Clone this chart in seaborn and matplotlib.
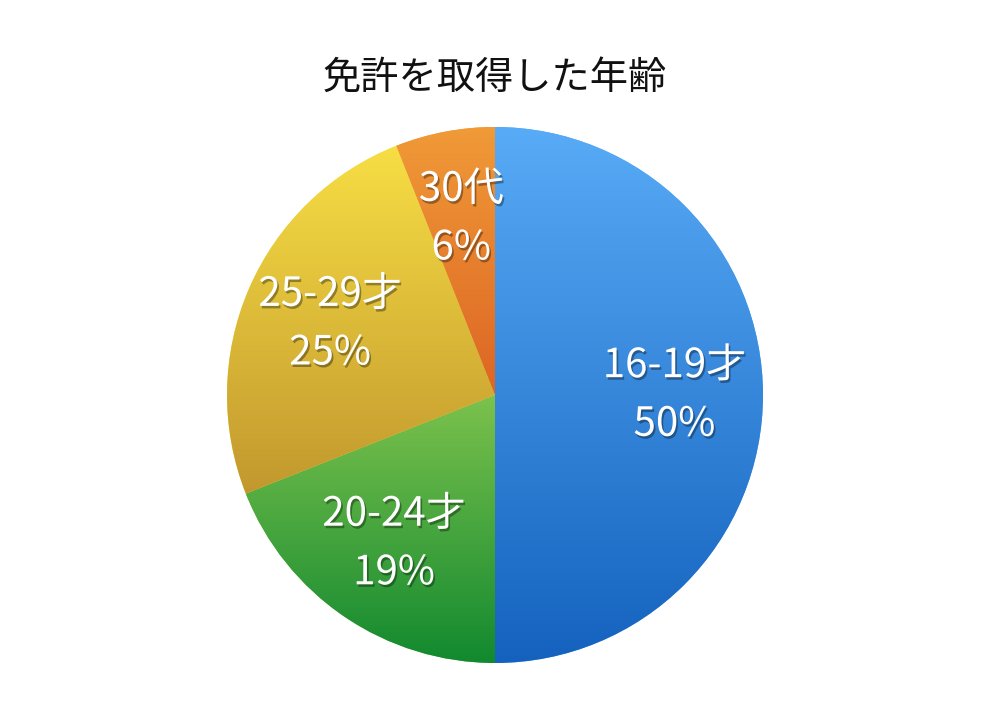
import numpy as np
import seaborn as sns
import matplotlib.pyplot as plt
import matplotlib.patheffects as pe
from matplotlib.colors import LinearSegmentedColormap

# data
age_groups = ['16-19才', '20-24才', '25-29才', '30代']
shares = [50, 19, 25, 6]
title = '免許を取得した年齢'

# top / bottom colours of each slice gradient
top_colors = ['#58abf6', '#7cc24d', '#f7de44', '#f09a38']
bottom_colors = ['#1462be', '#12892f', '#c2982e', '#dd6523']

sns.set_theme(style='white')
plt.rcParams['font.family'] = ['Noto Sans CJK JP', 'DejaVu Sans']

fig = plt.figure(figsize=(9.82, 7.16), dpi=100)
r_px = 268
cx, cy = 495, 395
ax = fig.add_axes([(cx - r_px) / 982, (716 - cy - r_px) / 716, 2 * r_px / 982, 2 * r_px / 716])

labels = [f'{g}\n{s}%' for g, s in zip(age_groups, shares)]
wedges, texts = ax.pie(shares, labels=labels, startangle=90, counterclock=False,
                       labeldistance=0.67, radius=1,
                       wedgeprops=dict(linewidth=0, edgecolor='none'))

# vertical gradient inside each wedge
for w, c_top, c_bot in zip(wedges, top_colors, bottom_colors):
    ys = w.get_path().vertices[:, 1]
    ymin, ymax = ys.min(), ys.max()
    cmap = LinearSegmentedColormap.from_list('g', [c_bot, c_top])
    grad = np.linspace(1, 0, 256).reshape(-1, 1)
    w.set_facecolor(c_top)
    im = ax.imshow(grad, cmap=cmap, extent=[-1.05, 1.05, ymin, ymax],
                   aspect='auto', zorder=1.5, interpolation='bilinear')
    im.set_clip_path(w)

# white labels with a soft drop shadow
for t in texts:
    t.set_ha('center')
    t.set_va('center')
    t.set_color('white')
    t.set_fontsize(29)
    t.set_linespacing(1.55)
    t.set_zorder(5)
    t.set_path_effects([pe.withSimplePatchShadow(offset=(1.2, -1.8), shadow_rgbFace='black', alpha=0.35)])

ax.set_xlim(-1, 1)
ax.set_ylim(-1, 1)
ax.set_aspect('equal')
ax.axis('off')

fig.text(cx / 982, 1 - 78 / 716, title, ha='center', va='center', fontsize=27.5, color='#111111')

fig.savefig('out.png', dpi=100, facecolor='white')
